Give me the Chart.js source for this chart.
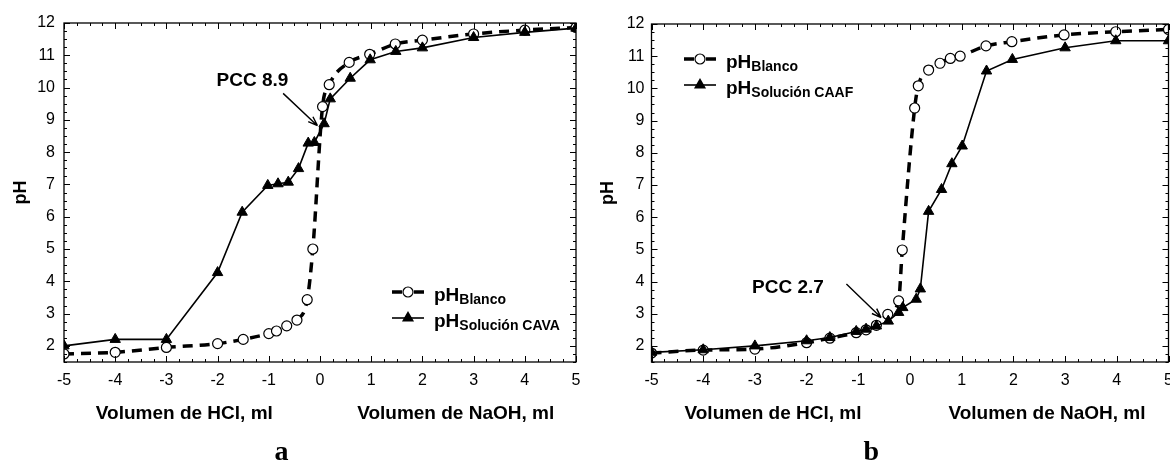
<!DOCTYPE html>
<html lang="es">
<head>
<meta charset="UTF-8">
<title>Curvas de pH</title>
<script src="https://cdn.jsdelivr.net/npm/chart.js"></script>
<style>
  html, body { margin: 0; padding: 0; background: #fff; overflow: hidden; width: 1170px; height: 462px; }
  .panel { position: absolute; top: 0; height: 462px; }
  #wrapA { left: 0; width: 590px; }
  #wrapB { left: 590px; width: 600px; }
</style>
</head>
<body>
<div class="panel" id="wrapA"><canvas id="chartA"></canvas></div>
<div class="panel" id="wrapB"><canvas id="chartB"></canvas></div>
<script>
// ejes
const xTicks = [-5, -4, -3, -2, -1, 0, 1, 2, 3, 4, 5];
const yTicks = [2, 3, 4, 5, 6, 7, 8, 9, 10, 11, 12];

// panel a
const seriesA = ['Blanco', 'Solución CAVA'];
const blancoA_x = [-5, -4, -3, -2, -1.5, -1, -0.85, -0.65, -0.45, -0.25, -0.14, 0.05, 0.18, 0.57, 0.97, 1.47, 2, 3, 4, 5];
const blancoA_y = [1.75, 1.8, 1.95, 2.07, 2.2, 2.38, 2.46, 2.62, 2.8, 3.43, 5.0, 9.41, 10.09, 10.78, 11.03, 11.35, 11.47, 11.66, 11.78, 11.86];
const cavaA_x = [-5, -4, -3, -2, -1.52, -1.02, -0.82, -0.62, -0.42, -0.23, -0.11, 0.08, 0.2, 0.59, 0.98, 1.48, 2, 3, 4, 5];
const cavaA_y = [2.0, 2.2, 2.2, 4.27, 6.14, 6.97, 7.02, 7.07, 7.49, 8.28, 8.3, 8.88, 9.65, 10.29, 10.86, 11.12, 11.23, 11.55, 11.71, 11.84];

// panel b
const seriesB = ['Blanco', 'Solución CAAF'];
const blancoB_x = [-5, -4, -3, -2, -1.55, -1.04, -0.85, -0.65, -0.43, -0.22, -0.15, 0.09, 0.16, 0.36, 0.58, 0.78, 0.97, 1.47, 1.97, 2.98, 3.98, 5];
const blancoB_y = [1.78, 1.87, 1.9, 2.1, 2.24, 2.41, 2.5, 2.64, 2.98, 3.4, 4.98, 9.39, 10.08, 10.57, 10.78, 10.93, 11.0, 11.32, 11.45, 11.66, 11.76, 11.83];
const caafB_x = [-5, -4, -3, -2, -1.55, -1.04, -0.85, -0.65, -0.42, -0.22, -0.14, 0.12, 0.2, 0.36, 0.61, 0.81, 1.01, 1.48, 1.98, 3, 3.98, 5];
const caafB_y = [1.8, 1.88, 2.0, 2.16, 2.26, 2.45, 2.52, 2.62, 2.77, 3.04, 3.19, 3.45, 3.77, 6.18, 6.86, 7.66, 8.21, 10.54, 10.9, 11.26, 11.48, 11.48];

const SANS = '"Liberation Sans", Arial, sans-serif';

function pts(xs, ys) {
  return xs.map((v, i) => ({ x: v, y: ys[i] }));
}

function drawTriangle(ctx, cx, cy, r) {
  ctx.beginPath();
  ctx.moveTo(cx, cy - r);
  ctx.lineTo(cx + r * 0.866, cy + r * 0.5);
  ctx.lineTo(cx - r * 0.866, cy + r * 0.5);
  ctx.closePath();
  ctx.fill();
}

// marco, marcas hacia dentro, leyenda, títulos y anotaciones
const decor = {
  id: 'decor',
  afterDraw(chart, args, o) {
    const { ctx, chartArea: a } = chart;
    const x = chart.scales.x, y = chart.scales.y;
    ctx.save();
    ctx.strokeStyle = '#000';
    ctx.fillStyle = '#000';

    ctx.lineWidth = 1.3;
    ctx.strokeRect(a.left, a.top, a.right - a.left, a.bottom - a.top);

    ctx.lineWidth = 1;
    ctx.beginPath();
    for (let v = x.min; v <= x.max + 1e-9; v += 0.25) {
      const px = Math.round(x.getPixelForValue(v)) + 0.5;
      const L = Math.abs(v - Math.round(v)) < 1e-6 ? 6 : 3;
      ctx.moveTo(px, a.bottom); ctx.lineTo(px, a.bottom - L);
      ctx.moveTo(px, a.top); ctx.lineTo(px, a.top + L);
    }
    for (let v = y.min; v <= y.max + 1e-9; v += 0.25) {
      const py = Math.round(y.getPixelForValue(v)) + 0.5;
      const L = Math.abs(v - Math.round(v)) < 1e-6 ? 6 : 3;
      ctx.moveTo(a.left, py); ctx.lineTo(a.left + L, py);
      ctx.moveTo(a.right, py); ctx.lineTo(a.right - L, py);
    }
    ctx.stroke();

    // títulos del eje x
    ctx.font = 'bold 19px ' + SANS;
    ctx.textAlign = 'center';
    ctx.textBaseline = 'middle';
    ctx.fillText('Volumen de HCl, ml', x.getPixelForValue(-2.65), a.bottom + 52);
    ctx.fillText('Volumen de NaOH, ml', x.getPixelForValue(2.65), a.bottom + 52);

    // letra del panel
    ctx.font = 'bold 28px "Liberation Serif", "Times New Roman", serif';
    ctx.textBaseline = 'alphabetic';
    ctx.fillText(o.letter, x.getPixelForValue(-0.75), a.bottom + 98);

    // anotación PCC
    const n = o.note;
    ctx.font = 'bold 19px ' + SANS;
    ctx.textBaseline = 'middle';
    ctx.fillText(n.text, x.getPixelForValue(n.at[0]), y.getPixelForValue(n.at[1]));
    const x0 = x.getPixelForValue(n.from[0]), y0 = y.getPixelForValue(n.from[1]);
    const x1 = x.getPixelForValue(n.to[0]), y1 = y.getPixelForValue(n.to[1]);
    const ang = Math.atan2(y1 - y0, x1 - x0);
    ctx.lineWidth = 1.4;
    ctx.beginPath();
    ctx.moveTo(x0, y0); ctx.lineTo(x1, y1);
    ctx.moveTo(x1, y1); ctx.lineTo(x1 - 10 * Math.cos(ang - 0.35), y1 - 10 * Math.sin(ang - 0.35));
    ctx.moveTo(x1, y1); ctx.lineTo(x1 - 10 * Math.cos(ang + 0.35), y1 - 10 * Math.sin(ang + 0.35));
    ctx.stroke();

    // leyenda
    const cx = a.left + o.legend.x;
    o.legend.labels.forEach((lab, i) => {
      const Y = a.top + o.legend.y + i * 26;
      if (i === 0) {
        ctx.lineWidth = 3.5;
        ctx.beginPath();
        ctx.moveTo(cx - 16, Y); ctx.lineTo(cx - 6, Y);
        ctx.moveTo(cx + 6, Y); ctx.lineTo(cx + 16, Y);
        ctx.stroke();
        ctx.lineWidth = 1.2;
        ctx.fillStyle = '#fff';
        ctx.beginPath();
        ctx.arc(cx, Y, 5, 0, Math.PI * 2);
        ctx.fill(); ctx.stroke();
        ctx.fillStyle = '#000';
      } else {
        ctx.lineWidth = 1.6;
        ctx.beginPath();
        ctx.moveTo(cx - 16, Y); ctx.lineTo(cx + 16, Y);
        ctx.stroke();
        drawTriangle(ctx, cx, Y, 7);
      }
      ctx.textAlign = 'left';
      ctx.textBaseline = 'alphabetic';
      ctx.font = 'bold 19px ' + SANS;
      ctx.fillText('pH', cx + 26, Y + 9);
      const w = ctx.measureText('pH').width;
      ctx.font = 'bold 14px ' + SANS;
      ctx.fillText(lab, cx + 26 + w, Y + 12);
    });
    ctx.restore();
  }
};

function makeChart(id, blanco, solucion, opt) {
  const ctx = document.getElementById(id).getContext('2d');
  return new Chart(ctx, {
    type: 'line',
    data: {
      datasets: [{
        label: opt.labels[0],
        data: blanco,
        borderColor: '#000',
        borderWidth: 3.5,
        borderDash: [10, 7],
        pointStyle: 'circle',
        pointRadius: 5,
        pointBackgroundColor: '#fff',
        pointBorderColor: '#000',
        pointBorderWidth: 1.2,
        cubicInterpolationMode: 'monotone',
        order: 1
      }, {
        label: opt.labels[1],
        data: solucion,
        borderColor: '#000',
        borderWidth: 1.6,
        pointStyle: 'triangle',
        pointRadius: 6,
        pointBackgroundColor: '#000',
        pointBorderColor: '#000',
        pointBorderWidth: 1,
        tension: 0,
        order: 0
      }]
    },
    options: {
      responsive: true,
      maintainAspectRatio: false,
      animation: false,
      layout: { padding: { left: 0, top: opt.top, right: opt.right, bottom: 0 } },
      scales: {
        x: {
          type: 'linear',
          min: -5, max: 5,
          grid: { display: false, drawTicks: false },
          border: { display: false },
          afterBuildTicks: (s) => { s.ticks = xTicks.map(v => ({ value: v })); },
          afterFit: (s) => { s.height = 100; },
          ticks: { font: { family: SANS, size: 16 }, color: '#000', padding: 9 }
        },
        y: {
          min: 1.5, max: 12,
          grid: { display: false, drawTicks: false },
          border: { display: false },
          afterBuildTicks: (s) => { s.ticks = yTicks.map(v => ({ value: v })); },
          afterFit: (s) => { s.width = opt.yWidth; },
          ticks: { font: { family: SANS, size: 16 }, color: '#000', padding: opt.yPad },
          title: {
            display: true, text: 'pH', color: '#000',
            font: { family: SANS, size: 18, weight: 'bold' },
            padding: { top: opt.titlePad, bottom: 0 }
          }
        }
      },
      plugins: {
        legend: { display: false },
        tooltip: { enabled: false },
        decor: {
          letter: opt.letter,
          note: opt.note,
          legend: { x: opt.legX, y: opt.legY, labels: opt.labels }
        }
      }
    },
    plugins: [decor]
  });
}

makeChart('chartA', pts(blancoA_x, blancoA_y), pts(cavaA_x, cavaA_y), {
  labels: seriesA, letter: 'a', top: 23, right: 14, yWidth: 64, yPad: 9, titlePad: 10,
  legX: 344, legY: 269,
  note: { text: 'PCC 8.9', at: [-1.32, 10.22], from: [-0.72, 9.82], to: [-0.05, 8.82] }
});

makeChart('chartB', pts(blancoB_x, blancoB_y), pts(caafB_x, caafB_y), {
  labels: seriesB, letter: 'b', top: 24, right: 21.5, yWidth: 61.5, yPad: 7, titlePad: 7,
  legX: 48.5, legY: 35,
  note: { text: 'PCC 2.7', at: [-2.36, 3.82], from: [-1.23, 3.92], to: [-0.56, 2.88] }
});
</script>
</body>
</html>
